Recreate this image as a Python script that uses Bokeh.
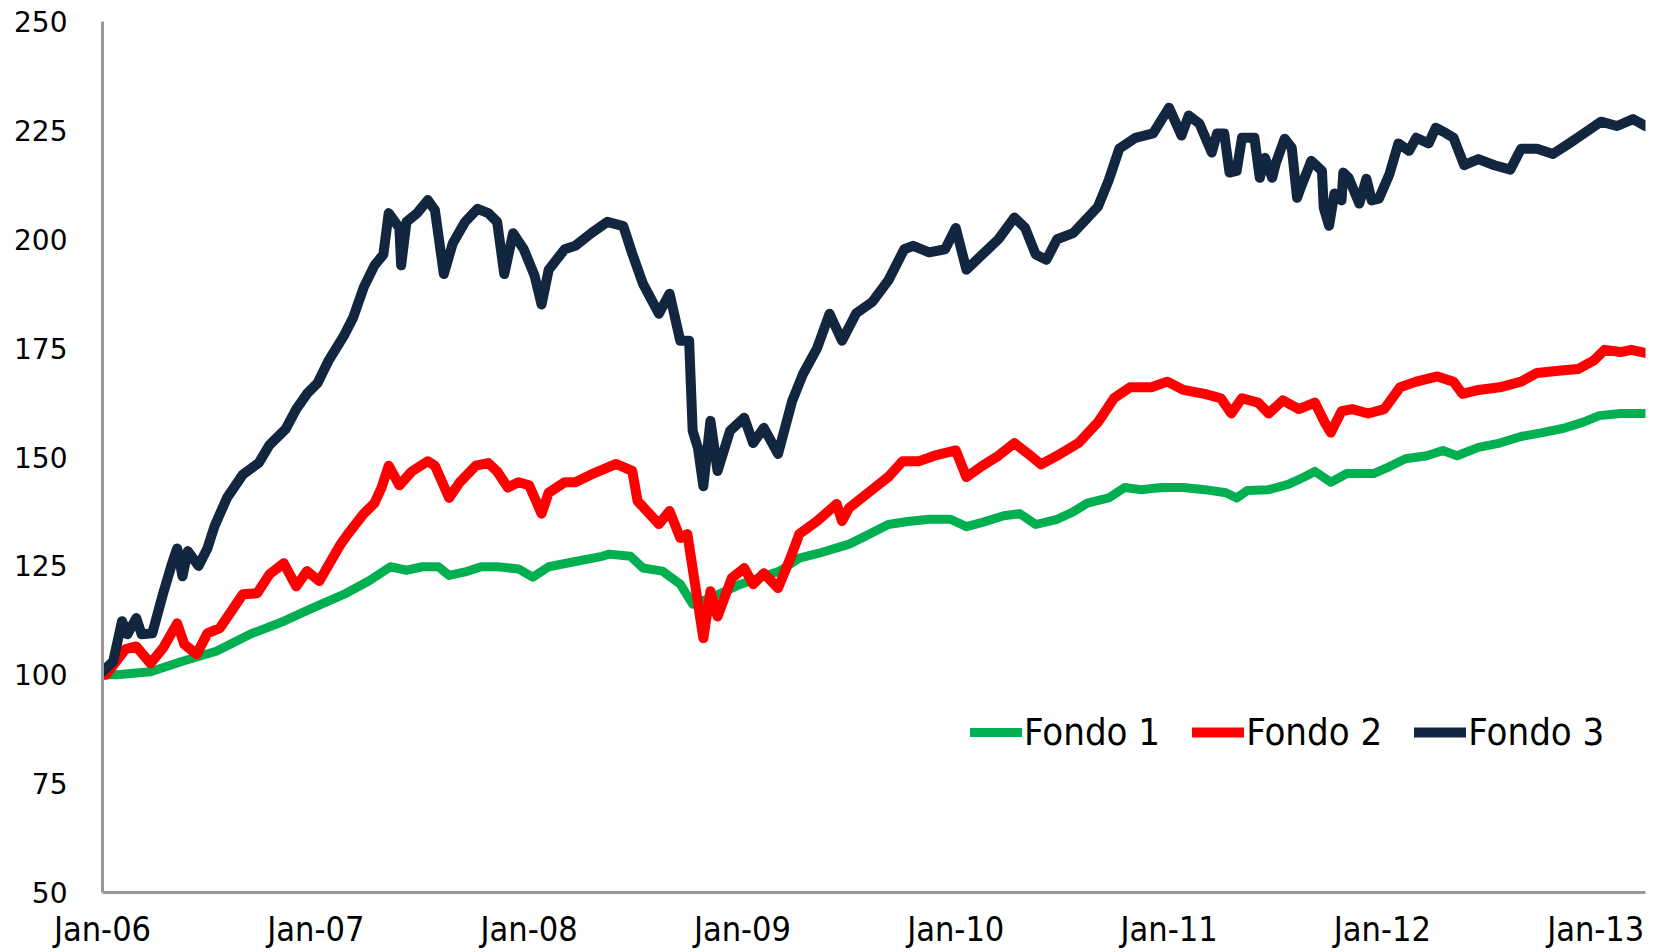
from bokeh.plotting import figure
from bokeh.models import Range1d, FixedTicker
from bokeh.embed import file_html
from bokeh.resources import INLINE

# months since Jan-2006
f1_months = [0, 0.8, 2.7, 4.5, 6.4, 8.3, 10.2, 11.8, 13.7, 15.0, 16.2, 17.1, 18.0, 18.9, 19.5, 20.4, 21.3, 22.2, 23.4,
             24.2, 25.1, 26.6, 28.1, 28.5, 29.7, 30.4, 31.5, 32.5, 33.2, 34.2, 35.9, 38.1, 39.2, 40.3, 42.0, 43.0, 44.2,
             45.3, 46.5, 47.7, 48.6, 49.5, 50.7, 51.6, 52.5, 53.7, 54.6, 55.4, 56.6, 57.5, 58.4, 59.6, 60.8, 62.0, 63.2,
             63.8, 64.4, 65.6, 66.7, 67.6, 68.2, 69.1, 70.0, 71.5, 72.4, 73.3, 74.5, 75.4, 76.2, 77.4, 78.6, 79.8, 81.0,
             82.2, 83.3, 84.2, 85.4, 86.8]
f1_values = [100, 100, 100.7, 103.1, 105.4, 109.3, 112.3, 115.3, 118.7, 121.6, 124.8, 124, 124.8, 124.8, 122.8, 123.6,
             124.8, 124.8, 124.3, 122.4, 124.8, 126, 127.2, 127.7, 127.2, 124.5, 123.8, 120.8, 116.2, 117.6, 120.8,
             123.8, 126.8, 127.9, 130, 132, 134.5, 135.2, 135.7, 135.7, 134, 135, 136.5, 137, 134.5, 135.7, 137.4,
             139.4, 140.6, 143, 142.5, 143, 143, 142.5, 141.8, 140.6, 142.3, 142.5, 143.7, 145.4, 146.7, 144.2, 146.2,
             146.2, 147.8, 149.6, 150.3, 151.5, 150.3, 152.2, 153.2, 154.7, 155.6, 156.6, 158, 159.5, 160, 160]

f2_months = [0, 0.2, 1.3, 1.9, 2.7, 3.4, 4.2, 4.6, 5.3, 5.9, 6.6, 7.9, 8.7, 9.4, 10.2, 10.9, 11.5, 12.2, 13.4, 13.8,
             14.7, 15.3, 15.7, 16.1, 16.7, 17.4, 18.3, 18.7, 19.5, 20.1, 21.0, 21.7, 22.2, 22.8, 23.4, 24.0, 24.7, 25.1,
             26.0, 26.6, 27.5, 28.9, 29.8, 30.1, 31.3, 31.9, 32.5, 32.9, 33.8, 34.2, 34.6, 35.4, 36.1, 36.6, 37.2, 38.0,
             38.7, 39.2, 40.2, 41.3, 41.6, 42.0, 43.3, 44.2, 45.0, 45.9, 46.8, 48.0, 48.6, 49.5, 50.4, 51.3, 52.2, 52.8,
             53.7, 54.9, 56.0, 56.9, 57.8, 59.0, 59.9, 60.8, 62.0, 62.9, 63.5, 64.1, 65.0, 65.6, 66.4, 67.3, 68.2, 68.8,
             69.1, 69.7, 70.3, 71.2, 72.1, 73.0, 73.9, 75.1, 76.0, 76.5, 77.4, 78.6, 79.8, 80.7, 81.9, 83.0, 83.9, 84.5,
             85.4, 86.0, 86.8]
f2_values = [100, 100, 105.9, 106.5, 102.6, 106.1, 111.8, 107, 104.7, 109.5, 110.7, 118.5, 118.7, 123.1, 125.6, 120.3,
             123.8, 121.5, 130, 132.3, 137, 139.4, 143, 148, 143.5, 146.7, 149, 148, 140.6, 144.2, 148, 148.6, 146.7,
             143, 144.2, 143.5, 137, 141.8, 144.2, 144.2, 146, 148.4, 146.8, 139.9, 134.6, 137.6, 131.4, 132.3, 108.4,
             119.2, 113.4, 122.2, 124.5, 120.8, 123.3, 119.9, 126.8, 132.3, 135.3, 139.2, 135.3, 138.3, 142.5, 145.4,
             149, 149, 150.3, 151.5, 145.4, 148, 150.3, 153.2, 150.3, 148.3, 150.3, 153.2, 158, 163.5, 166, 166, 167.3,
             165.4, 164.5, 163.5, 160, 163.5, 162.5, 160, 163, 161, 162.5, 157.6, 155.6, 160.5, 161, 160, 161, 166,
             167.3, 168.5, 167.3, 164.5, 165.4, 166, 167.3, 169.3, 169.8, 170.2, 172.2, 174.6, 174.1, 174.6, 173.9]

f3_months = [0, 0.6, 1.1, 1.4, 1.9, 2.2, 2.8, 3.4, 3.9, 4.2, 4.5, 4.8, 5.4, 5.9, 6.3, 7.0, 7.9, 8.8, 9.4, 10.3, 10.9,
             11.5, 12.1, 12.7, 13.6, 14.1, 14.7, 15.3, 15.8, 16.1, 16.7, 16.8, 17.1, 17.7, 18.3, 18.7, 19.2, 19.7, 20.4,
             21.1, 21.7, 22.2, 22.6, 23.1, 23.7, 24.3, 24.7, 25.1, 26.0, 26.6, 27.5, 28.4, 29.3, 29.8, 30.4, 31.3, 31.9,
             32.5, 33.0, 33.2, 33.5, 33.8, 34.2, 34.6, 35.3, 36.1, 36.6, 37.2, 38.0, 38.8, 39.4, 40.2, 40.9, 41.6, 42.4,
             43.3, 44.2, 45.1, 45.6, 46.5, 47.4, 48.0, 48.6, 49.5, 50.4, 51.3, 51.9, 52.5, 53.1, 53.7, 54.6, 55.2, 56.0,
             56.6, 57.2, 58.1, 59.1, 60.0, 60.7, 61.1, 61.7, 62.4, 62.7, 63.1, 63.4, 63.8, 64.1, 64.8, 65.1, 65.4, 65.8,
             66.0, 66.5, 66.9, 67.2, 67.4, 68.0, 68.6, 68.7, 69.0, 69.3, 69.7, 69.8, 70.1, 70.7, 71.1, 71.4, 71.8, 72.4,
             72.9, 73.5, 73.9, 74.6, 75.0, 75.6, 76.0, 76.6, 77.4, 78.3, 79.2, 79.8, 80.7, 81.6, 82.5, 83.4, 84.3, 85.2,
             86.1, 86.8]
f3_values = [100.7, 103.1, 112.3, 109.3, 113, 109.3, 109.5, 118.5, 125.4, 129, 122.6, 128.4, 125, 129, 134.1, 140.6,
             146, 148.7, 152.8, 156.4, 161, 164.5, 167, 172, 178, 182, 189, 194, 196.5, 206, 202.6, 194, 204, 206, 209,
             206.7, 192, 199, 204, 207, 206, 204, 192, 201.4, 197.7, 191.7, 185, 193, 197.7, 198.5, 201.4, 204, 203,
             196.7, 189.8, 182.9, 187.5, 176.7, 176.7, 156, 152, 143.3, 158.3, 146.8, 156, 159, 153.2, 156.7, 150.7,
             162.9, 169, 175, 182.9, 176.7, 183, 185.6, 190.5, 197.7, 198.5, 197, 197.7, 202.6, 193, 196.5, 200, 205,
             202.6, 196.5, 195.3, 200, 201.4, 204, 207.5, 213.5, 220.8, 223.3, 224.3, 230.2, 223.8, 228.4, 226.6,
             219.9, 224.3, 224.3, 215.3, 215.7, 223.3, 223.3, 214.1, 218.7, 214.1, 217.4, 223.1, 221, 209.5, 211.8, 218,
             215.7, 207.2, 203.1, 210.5, 208.9, 215.3, 214.1, 208.2, 213.9, 208.9, 209.3, 215, 222, 220.3, 223.3, 222,
             225.6, 224.3, 223.3, 217, 218.4, 217, 216, 220.8, 220.8, 219.6, 222, 224.5, 227, 226, 227.6, 226]

series_names = ["Fondo 1", "Fondo 2", "Fondo 3"]
series_colors = ["#00B050", "#FF0000", "#12263F"]
series_widths = [9, 10, 10]

tick_months = [0, 12, 24, 36, 48, 60, 72, 84]
tick_labels = ["Jan-06", "Jan-07", "Jan-08", "Jan-09", "Jan-10", "Jan-11", "Jan-12", "Jan-13"]
y_ticks = [50, 75, 100, 125, 150, 175, 200, 225, 250]

p = figure(width=1650, height=951, output_backend="svg", toolbar_location=None,
           x_range=Range1d(0, 86.8), y_range=Range1d(50, 250),
           min_border_left=102, min_border_right=5, min_border_top=21, min_border_bottom=58)
p.outline_line_color = None
p.xgrid.visible = False
p.ygrid.visible = False
p.background_fill_color = "white"

data = [(f1_months, f1_values), (f2_months, f2_values), (f3_months, f3_values)]
for (xs, ys), name, col, w in zip(data, series_names, series_colors, series_widths):
    p.line(xs, ys, line_color=col, line_width=w, line_join="round", line_cap="round", legend_label=name)

for ax in (p.xaxis[0], p.yaxis[0]):
    ax.axis_line_color = "#999999"
    ax.axis_line_width = 3
    ax.major_tick_line_color = None
    ax.minor_tick_line_color = None
    ax.major_label_text_color = "#000000"

p.xaxis.ticker = FixedTicker(ticks=tick_months)
p.xaxis.major_label_overrides = {m: l for m, l in zip(tick_months, tick_labels)}
p.xaxis.major_label_text_font = "Liberation Sans Narrow, DejaVu Sans Condensed, sans-serif"
p.xaxis.major_label_text_font_size = "34px"
p.xaxis.major_label_text_line_height = 1.0
p.xaxis.major_label_standoff = 10

p.yaxis.ticker = FixedTicker(ticks=y_ticks)
p.yaxis.major_label_text_font = "DejaVu Sans"
p.yaxis.major_label_text_font_size = "28px"
p.yaxis.major_label_standoff = 29

lg = p.legend[0]
lg.orientation = "horizontal"
lg.location = (868, 138)
lg.border_line_color = None
lg.background_fill_alpha = 0
lg.label_text_font = "Liberation Sans Narrow, DejaVu Sans Condensed, sans-serif"
lg.label_text_font_size = "38px"
lg.label_text_color = "#000000"
lg.glyph_width = 52
lg.glyph_height = 40
lg.label_standoff = 2
lg.spacing = 32
lg.padding = 0
lg.margin = 0

open("out.html", "w").write(file_html(p, INLINE))
